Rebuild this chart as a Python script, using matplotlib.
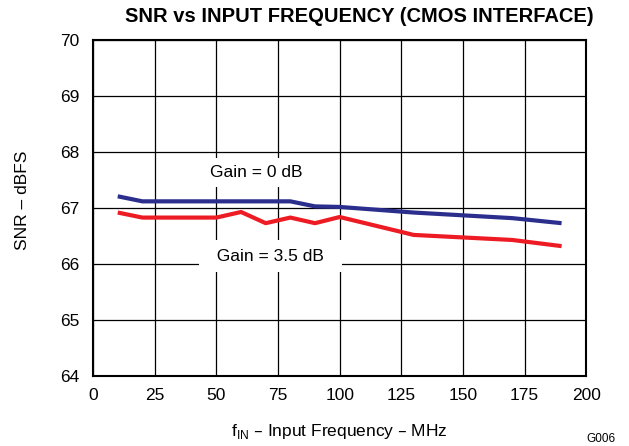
import matplotlib.pyplot as plt

plt.rcParams["font.family"] = ["Liberation Sans", "DejaVu Sans"]

freq = [10, 20, 30, 40, 50, 60, 70, 80, 90, 100, 130, 170, 190]
snr_0db = [67.21, 67.12, 67.12, 67.12, 67.12, 67.12, 67.12, 67.12, 67.03, 67.02, 66.92, 66.82, 66.73]
snr_35db = [66.92, 66.83, 66.83, 66.83, 66.83, 66.93, 66.73, 66.83, 66.73, 66.84, 66.52, 66.43, 66.32]
xticks = [0, 25, 50, 75, 100, 125, 150, 175, 200]
yticks = [64, 65, 66, 67, 68, 69, 70]

fig = plt.figure(figsize=(6.29, 4.46), dpi=100)
ax = fig.add_axes([0.148, 0.157, 0.784, 0.753])

ax.grid(True, color="black", linewidth=0.9)
ax.set_axisbelow(True)
ax.plot(freq, snr_0db, color="#2B2E8C", linewidth=3, solid_capstyle="butt", zorder=3)
ax.plot(freq, snr_35db, color="#ED1C24", linewidth=3, solid_capstyle="butt", zorder=3)

ax.set_xlim(0, 200)
ax.set_ylim(64, 70)
ax.set_xticks(xticks)
ax.set_yticks(yticks)
ax.tick_params(length=0, labelsize=12.5)
ax.tick_params(axis="x", pad=9)
ax.tick_params(axis="y", pad=10)
for s in ax.spines.values():
    s.set_linewidth(1.5)

ax.text(66, 67.64, "Gain = 0 dB", fontsize=12.5, ha="center", va="center",
        bbox=dict(facecolor="white", edgecolor="none", pad=5), zorder=4)
ax.text(72, 66.14, "  Gain = 3.5 dB  ", fontsize=12.5, ha="center", va="center",
        bbox=dict(facecolor="white", edgecolor="none", pad=6), zorder=4)

# title sits a bit right of the axes centre in the original
fig.text(0.5716, 0.962, "SNR vs INPUT FREQUENCY (CMOS INTERFACE)", fontsize=14.5,
         fontweight="bold", ha="center", va="center")
ax.set_xlabel("f$_{\\mathregular{IN}}$ – Input Frequency – MHz", fontsize=12.5, labelpad=13)
ax.set_ylabel("SNR – dBFS", fontsize=12.5)
ax.yaxis.set_label_coords(-0.128, 0.524)
fig.text(0.955, 0.01, "G006", fontsize=8.5, ha="center")

fig.savefig("out.png", dpi=100)
